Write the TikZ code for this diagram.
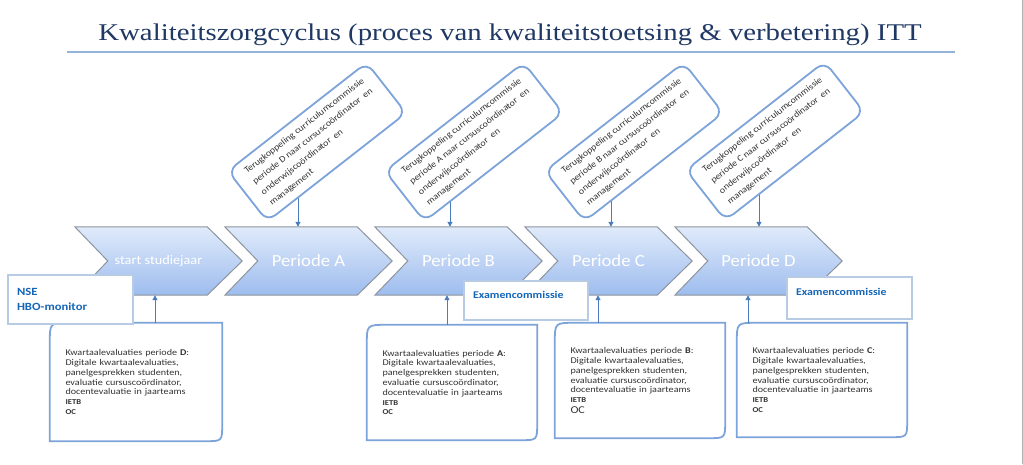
\documentclass[tikz,border=0pt]{standalone}
\usepackage{fontspec}
\setmainfont{Carlito}
\newfontfamily\wf[FakeStretch=1.15]{Carlito}
\newfontfamily\wfb[FakeStretch=1.1]{Carlito}
\newfontfamily\tf[FakeStretch=1.2]{Liberation Serif}
\usetikzlibrary{arrows.meta}
\definecolor{titlecol}{HTML}{1F3864}
\definecolor{rulecol}{HTML}{95B3D7}
\definecolor{chevtop}{HTML}{E0EBFB}
\definecolor{chevbot}{HTML}{9DBCEE}
\definecolor{chevline}{HTML}{8E959E}
\definecolor{framecol}{HTML}{7DA4DA}
\definecolor{arrowcol}{HTML}{4A7CBE}
\definecolor{lightframe}{HTML}{B7CBE5}
\definecolor{labelblue}{HTML}{1565B8}
\definecolor{bodytext}{HTML}{333333}
\pgfdeclarelayer{behind}
\pgfsetlayers{behind,main}
\newcommand{\diagframe}[1]{%
  \draw[bframe] (#1.south west) -- ([yshift=-20pt]#1.north west)
    .. controls (#1.north west) .. ([xshift=20pt]#1.north west)
    -- (#1.north east) -- ([yshift=17pt]#1.south east)
    .. controls (#1.south east) .. ([xshift=-17pt]#1.south east) -- cycle;}
\begin{document}
\begin{tikzpicture}[x=1pt,y=-1pt,
  chev/.style={minimum width=167pt, minimum height=68pt, inner sep=0pt},
  chevshape/.style={top color=chevtop, bottom color=chevbot, draw=chevline, line width=1pt, line join=miter},
  chevtext/.style={text=white, font=\wfb\fontsize{17}{20}\selectfont},
  starttext/.style={text=white, font=\wfb\fontsize{13}{16}\selectfont},
  tbox/.style={draw=framecol, line width=1.8pt, fill=white, rounded corners=10pt,
    minimum width=176pt, minimum height=64pt, align=left, inner sep=4pt,
    text=bodytext, font=\wfb\fontsize{9}{13.5}\selectfont},
  bnode/.style={inner xsep=15.5pt, inner ysep=0pt, align=left, text=bodytext,
    font=\wf\fontsize{8.8}{9.8}\selectfont},
  bframe/.style={draw=framecol, line width=1.8pt},
  arr/.style={draw=arrowcol, line width=1pt, -{Triangle[length=5pt,width=5pt]}},
  lbox/.style={draw=lightframe, line width=1.4pt, fill=white, align=left, text=labelblue,
    font=\wf\bfseries\fontsize{10.3}{12}\selectfont, inner xsep=9pt, inner ysep=0pt}
]
\useasboundingbox (0,0) rectangle (1023,464);

% title
\node[anchor=base, text=titlecol, font=\tf\fontsize{24}{28}\selectfont, inner sep=0pt] (title) at (510,40)
  {Kwaliteitszorgcyclus (proces van kwaliteitstoetsing \& verbetering) ITT};
\coordinate (rl) at (67,52);
\coordinate (rr) at (955,52);
\draw[rulecol, line width=1.6pt] (rl) -- (rr);

% right edge line
\coordinate (eu) at (1022.5,0);
\coordinate (ed) at (1022.5,464);
\draw[black!30, line width=1pt] (eu) -- (ed);

% chevrons
\foreach \n/\cx in {0/158.5,1/308.5,2/458.5,3/608.5,4/758.5}{
  \node[chev] (s\n) at (\cx,261) {};
  \path[chevshape] (s\n.north west) -- ([xshift=-35pt]s\n.north east) -- (s\n.east)
    -- ([xshift=-35pt]s\n.south east) -- (s\n.south west) -- ([xshift=33pt]s\n.west) -- cycle;
}
\node[starttext] (l0) at (s0) {start studiejaar};
\node[chevtext] (l1) at (s1) {Periode A};
\node[chevtext] (l2) at (s2) {Periode B};
\node[chevtext] (l3) at (s3) {Periode C};
\node[chevtext] (l4) at (s4) {Periode D};

% tilted feedback boxes
\node[tbox, rotate=38] (t1) at (317,142) {Terugkoppeling curriculumcommissie\\periode D naar cursuscoördinator\ \ en\\onderwijscoördinator\ \ en\\management};
\node[tbox, rotate=38] (t2) at (474,142) {Terugkoppeling curriculumcommissie\\periode A naar cursuscoördinator\ \ en\\onderwijscoördinator\ \ en\\management};
\node[tbox, rotate=38] (t3) at (634,142) {Terugkoppeling curriculumcommissie\\periode B naar cursuscoördinator\ \ en\\onderwijscoördinator\ \ en\\management};
\node[tbox, rotate=38] (t4) at (775,141) {Terugkoppeling curriculumcommissie\\periode C naar cursuscoördinator\ \ en\\onderwijscoördinator\ \ en\\management};

\path ([xshift=-19pt]t1.center) coordinate (ta1);
\path ([xshift=-24pt]t2.center) coordinate (ta2);
\path ([xshift=-23pt]t3.center) coordinate (ta3);
\path ([xshift=-16pt]t4.center) coordinate (ta4);
\begin{pgfonlayer}{behind}
  \fill[white] (0,0) rectangle (1023,464);
  \draw[arr] (ta1) -- (ta1 |- s1.north);
  \draw[arr] (ta2) -- (ta2 |- s2.north);
  \draw[arr] (ta3) -- (ta3 |- s3.north);
  \draw[arr] (ta4) -- (ta4 |- s4.north);
\end{pgfonlayer}

% bottom evaluation boxes
\node[bnode, text width=141pt, minimum height=118pt] (b1) at (136,382)
  {Kwartaalevaluaties periode \textbf{D}:\\Digitale kwartaalevaluaties,\\panelgesprekken studenten,\\evaluatie cursuscoördinator,\\docentevaluatie in jaarteams\\{\bfseries\fontsize{7.5}{9.8}\selectfont IETB}\\{\bfseries\fontsize{7.5}{9.8}\selectfont OC}};
\node[bnode, text width=139pt, minimum height=115pt] (b2) at (452,382.5)
  {Kwartaalevaluaties periode \textbf{A}:\\Digitale kwartaalevaluaties,\\panelgesprekken studenten,\\evaluatie cursuscoördinator,\\docentevaluatie in jaarteams\\{\bfseries\fontsize{7.5}{9.8}\selectfont IETB}\\{\bfseries\fontsize{7.5}{9.8}\selectfont OC}};
\node[bnode, text width=139pt, minimum height=115pt] (b3) at (640,380.5)
  {Kwartaalevaluaties periode \textbf{B}:\\Digitale kwartaalevaluaties,\\panelgesprekken studenten,\\evaluatie cursuscoördinator,\\docentevaluatie in jaarteams\\{\bfseries\fontsize{7.5}{9.8}\selectfont IETB}\\[1pt]{\fontsize{10.5}{12}\selectfont OC}};
\node[bnode, text width=139pt, minimum height=114pt] (b4) at (822,380)
  {Kwartaalevaluaties periode \textbf{C}:\\Digitale kwartaalevaluaties,\\panelgesprekken studenten,\\evaluatie cursuscoördinator,\\docentevaluatie in jaarteams\\{\bfseries\fontsize{7.5}{9.8}\selectfont IETB}\\{\bfseries\fontsize{7.5}{9.8}\selectfont OC}};
\diagframe{b1}
\diagframe{b2}
\diagframe{b3}
\diagframe{b4}

\path ([xshift=19pt]b1.north) coordinate (ba1);
\path ([xshift=-5pt]b2.north) coordinate (ba2);
\path ([xshift=-42pt]b3.north) coordinate (ba3);
\path ([xshift=-74pt]b4.north) coordinate (ba4);
\draw[arr] (ba1) -- (ba1 |- s0.south);
\draw[arr] (ba2) -- (ba2 |- s2.south);
\draw[arr] (ba3) -- (ba3 |- s3.south);
\draw[arr] (ba4) -- (ba4 |- s4.south);

% label boxes
\node[lbox, text width=107pt, minimum height=49pt, font=\wf\bfseries\fontsize{11}{14.5}\selectfont] (nse) at (70.5,299.5) {NSE\\HBO-monitor};
\node[lbox, text width=106pt, minimum height=39pt] (ex1) at (526,300.5) {Examencommissie\\\mbox{}};
\node[lbox, text width=107pt, minimum height=42pt] (ex2) at (849.5,298) {Examencommissie\\\mbox{}};
\end{tikzpicture}
\end{document}
